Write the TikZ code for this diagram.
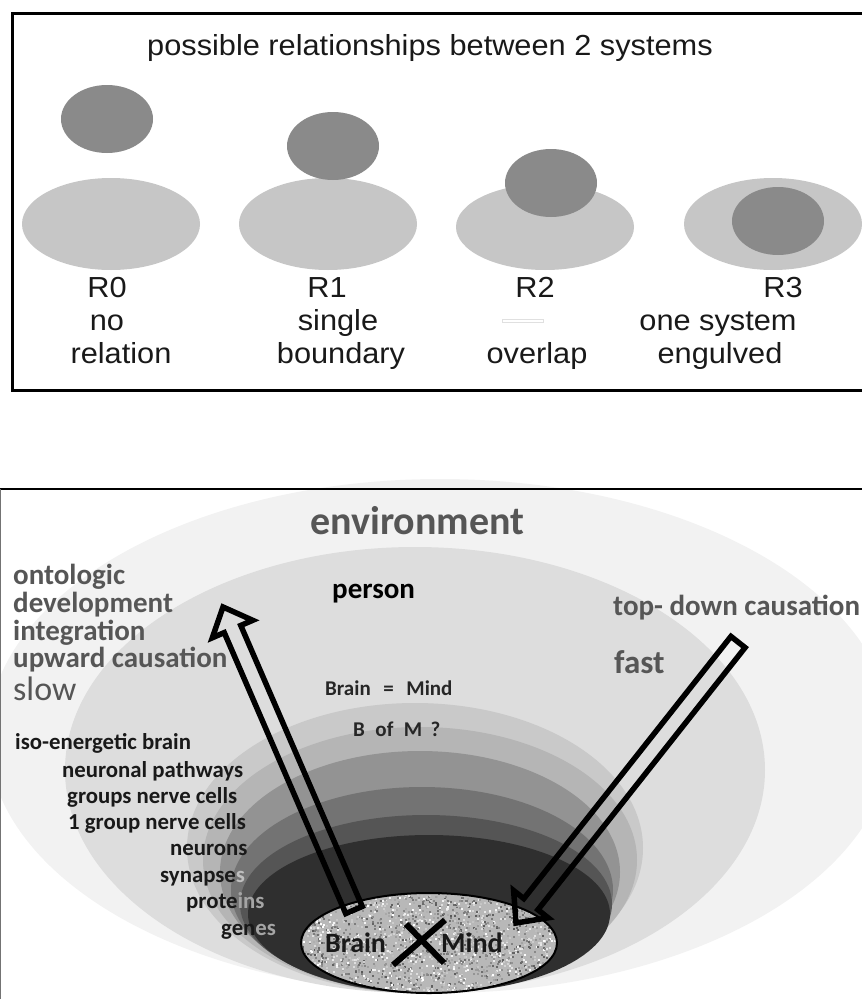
\documentclass[tikz,border=0pt]{standalone}
\usepackage{fontspec}
\usepackage{graphicx}
\setmainfont{Liberation Sans}
\newfontfamily\carl{Carlito}
\usetikzlibrary{calc}
\definecolor{envc}{HTML}{F2F2F2}
\definecolor{perc}{HTML}{DDDDDD}
\definecolor{rga}{HTML}{C9C9C9}
\definecolor{rgb}{HTML}{B5B5B5}
\definecolor{rgc}{HTML}{939393}
\definecolor{rgd}{HTML}{737373}
\definecolor{rge}{HTML}{555555}
\definecolor{rgf}{HTML}{2F2F2F}
\definecolor{smallc}{HTML}{8A8A8A}
\definecolor{bigc}{HTML}{C6C6C6}
\definecolor{txtg}{HTML}{565656}
\definecolor{fadeg}{HTML}{A5A5A5}
\newcommand\topfont{\fontsize{29}{29}\selectfont}
\newcommand\sx[1]{\scalebox{1.06}[1]{#1}}
\begin{document}
\begin{tikzpicture}[x=1pt,y=-1pt,
  tl/.style={anchor=base, inner sep=0pt, font=\topfont, text=black!90},
  bl/.style={anchor=base west, inner sep=0pt},
  listtxt/.style={bl, font=\carl\bfseries\fontsize{22.8}{22.8}\selectfont, text=black!90},
  leftg/.style={bl, font=\carl\bfseries\fontsize{29}{29}\selectfont, text=txtg},
  arrowline/.style={draw=black, line width=5.5pt, line join=miter}]
\useasboundingbox (0,0) rectangle (862,999);

% ---------------- top panel ----------------
\draw[line width=3pt] (864,13) -- (12,13) -- (12,390) -- (864,390);
\node[tl] (title) at (430,55) {\sx{possible relationships between 2 systems}};

\fill[smallc] (107,119) ellipse [x radius=46, y radius=34];
\fill[bigc] (111,224) ellipse [x radius=89, y radius=46];
\fill[bigc] (328,224) ellipse [x radius=89, y radius=46];
\fill[smallc] (333,146) ellipse [x radius=46, y radius=34];
\fill[bigc] (545,227) ellipse [x radius=89, y radius=43];
\fill[smallc] (551,183) ellipse [x radius=46, y radius=34];
\fill[bigc] (773,224) ellipse [x radius=89, y radius=46];
\fill[smallc] (778,221) ellipse [x radius=46, y radius=34];

\node[tl] (r0) at (107,297) {\sx{R0}};
\node[tl] (r0a) at (107,330) {\sx{no}};
\node[tl] (r0b) at (121,363) {\sx{relation}};
\node[tl] (r1) at (327,297) {\sx{R1}};
\node[tl] (r1a) at (338,330) {\sx{single}};
\node[tl] (r1b) at (341,363) {\sx{boundary}};
\node[tl] (r2) at (535,297) {\sx{R2}};
\draw[black!12, line width=0.8pt] (502,319.5) rectangle (543,322.5);
\node[tl] (r2b) at (537,363) {\sx{overlap}};
\node[tl] (r3) at (783,297) {\sx{R3}};
\node[tl] (r3a) at (718,330) {\sx{one system}};
\node[tl] (r3b) at (720,363) {\sx{engulved}};

% ---------------- bottom panel ----------------
\fill[envc] (440,736) ellipse [x radius=452, y radius=257];
\fill[perc] (415,770) ellipse [x radius=350, y radius=223];
\fill[rga] (415,848) ellipse [x radius=228, y radius=145];
\fill[rgb] (420,860) ellipse [x radius=217, y radius=133];
\fill[rgc] (420,872) ellipse [x radius=200, y radius=121];
\fill[rgd] (422,890) ellipse [x radius=191, y radius=103];
\fill[rge] (426,904) ellipse [x radius=186, y radius=89];
\fill[rgf] (429,914) ellipse [x radius=181, y radius=79];

% brain ellipse with noise texture
\begin{scope}
  \clip (429,943) ellipse [x radius=128, y radius=50];
  \fill[black!28] (300,890) rectangle (558,995);
  \pgfmathsetseed{4242}
  \foreach \i in {1,...,2400}{
    \pgfmathsetmacro\px{300+rnd*258}
    \pgfmathsetmacro\py{892+rnd*102}
    \pgfmathsetmacro\g{rnd*65}
    \fill[black!\g] (\px,\py) rectangle ++(2,2);
  }
\end{scope}
\draw[line width=2pt] (429,943) ellipse [x radius=128, y radius=50];

\draw[line width=2.5pt] (0,489) -- (862,489);
\draw[black!55, line width=1.2pt] (0.8,489) -- (0.8,999);

% texts
\node[bl, font=\carl\bfseries\fontsize{40}{40}\selectfont, text=txtg] (env) at (310,534) {environment};
\node[leftg] (t1) at (13,584) {ontologic};
\node[leftg] (t2) at (13,612) {development};
\node[leftg] (t3) at (13,640) {integration};
\node[leftg] (t4) at (13,667) {upward causation};
\node[bl, font=\carl\fontsize{34}{34}\selectfont, text=txtg] (t5) at (13,700) {slow};
\node[bl, font=\carl\bfseries\fontsize{29}{29}\selectfont, text=black] (person) at (332,598) {person};
\node[bl, font=\carl\bfseries\fontsize{29}{29}\selectfont, text=txtg] (td) at (613,615) {top- down causation};
\node[bl, font=\carl\bfseries\fontsize{33}{33}\selectfont, text=txtg] (fast) at (614,673) {fast};
\node[bl, font=\carl\bfseries\fontsize{21}{21}\selectfont, text=black!85] (bm) at (325,695) {Brain\hspace{0.6em}=\hspace{0.6em}Mind};
\node[bl, font=\carl\bfseries\fontsize{21}{21}\selectfont, text=black!85] (bom) at (353,736) {B\hspace{0.5em}of\hspace{0.5em}M\hspace{0.4em}?};

\node[listtxt] (l1) at (15,749) {iso-energetic brain};
\node[listtxt] (l2) at (62,777) {neuronal pathways};
\node[listtxt] (l3) at (67,803) {groups nerve cells};
\node[listtxt] (l4) at (68,829) {1 group nerve cells};
\node[listtxt] (l5) at (170,855) {neurons};
\node[listtxt] (l6) at (160,882) {synapse\textcolor{black!25}{s}};
\node[listtxt] (l7) at (186,908) {prote\textcolor{fadeg}{ins}};
\node[listtxt] (l8) at (221,935) {gen\textcolor{fadeg}{es}};

\node[bl, font=\carl\bfseries\fontsize{28}{28}\selectfont, text=black!90] (brain) at (325,952) {Brain};
\node[bl, font=\carl\bfseries\fontsize{28}{28}\selectfont, text=black!90] (mind) at (441,952) {Mind};

% X
\coordinate (xa) at (393,965);
\coordinate (xb) at (445,920);
\coordinate (xc) at (406,924);
\coordinate (xd) at (444,963);
\draw[line width=6pt] (xa) -- (xb);
\draw[line width=6pt] (xc) -- (xd);

% hollow arrows
\newcommand\hollowarrow[2]{%
  \path ($(#2)!24pt!(#1)$) coordinate (hb);
  \draw[arrowline] ($(#1)!9pt!90:(#2)$) -- ($(hb)!9pt!90:(#2)$) -- ($(hb)!22pt!90:(#2)$) -- (#2)
     -- ($(hb)!22pt!-90:(#2)$) -- ($(hb)!9pt!-90:(#2)$) -- ($(#1)!9pt!-90:(#2)$) -- cycle;}
\coordinate (uptail) at (354,910);
\coordinate (uptip) at (223,607);
\coordinate (dntail) at (738,642);
\coordinate (dntip) at (516,923);
\hollowarrow{uptail}{uptip}
\hollowarrow{dntail}{dntip}
\end{tikzpicture}
\end{document}
